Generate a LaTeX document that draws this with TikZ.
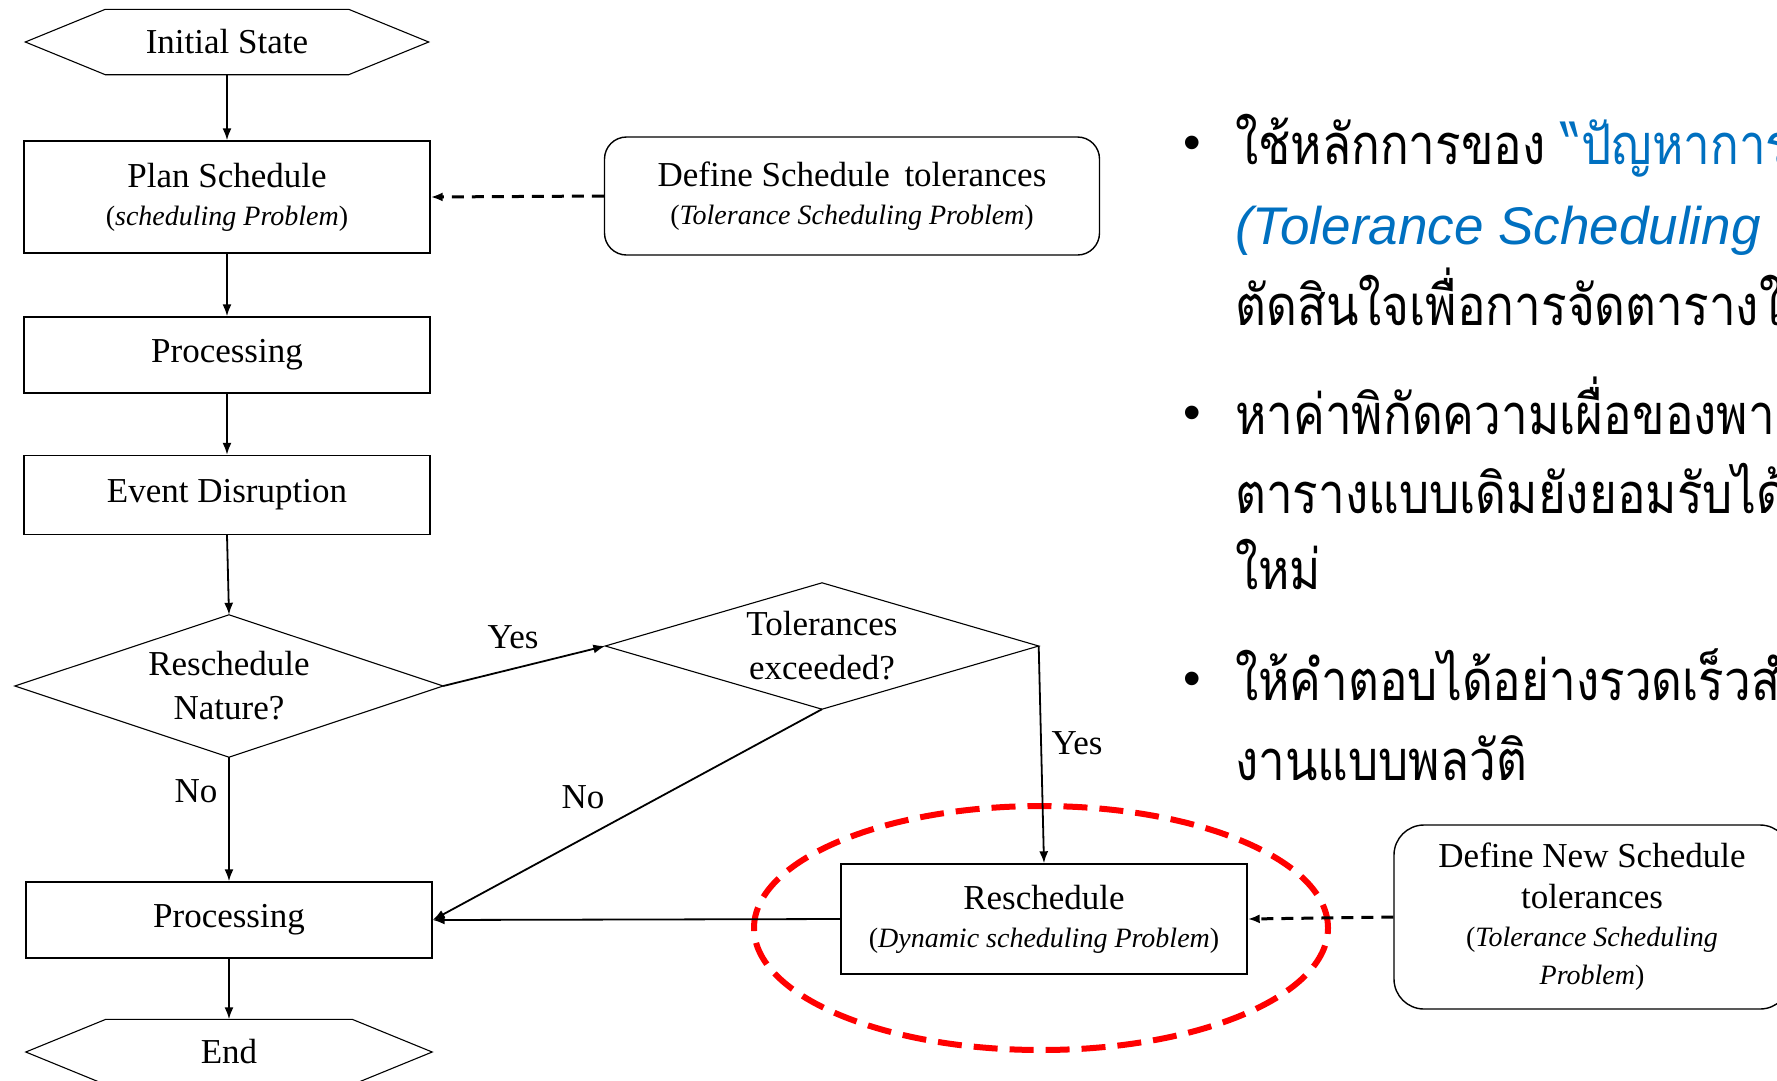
\documentclass[tikz,border=0pt]{standalone}
\usepackage{fontspec}
\setmainfont{Liberation Serif}
\newfontfamily\thaifont[Script=Thai,FakeStretch=0.85]{Loma}
\newfontfamily\arialfont{Liberation Sans}
\usetikzlibrary{calc,arrows.meta}
\definecolor{tblue}{RGB}{0,112,192}
\newcommand\subfnt{\fontsize{28}{36}\selectfont}
\begin{document}
\begin{tikzpicture}[x=1pt,y=-1pt,
  main/.style={font=\fontsize{35}{42}\selectfont},
  box/.style={draw, line width=1.4pt, inner sep=0pt, align=center, main},
  rbox/.style={box, rounded corners=22pt},
  shapeline/.style={line width=1.1pt},
  conn/.style={line width=1.8pt, -{Latex[length=12pt,width=9pt]}},
  dconn/.style={line width=3pt, dash pattern=on 12pt off 8pt, -{Latex[length=12pt,width=9pt]}},
  lbl/.style={main, inner sep=0pt},
  thai/.style={anchor=base west, inner sep=0pt, font=\thaifont\fontsize{56}{70}\selectfont},
  bul/.style={inner sep=0pt, font=\arialfont\fontsize{50}{60}\selectfont},
]
\useasboundingbox (0,0) rectangle (1777,1080);
\clip (0,0) rectangle (1777,1080);
\fill[white] (0,0) rectangle (1777,1080);

% ---------- left column ----------
\node[main, minimum width=403pt, minimum height=65pt, inner sep=0pt] (init) at (227,42) {Initial State};
\draw[shapeline] (init.west) -- ($(init.north west)+(80,0)$) -- ($(init.north east)+(-80,0)$) -- (init.east) -- ($(init.south east)+(-80,0)$) -- ($(init.south west)+(80,0)$) -- cycle;

\node[box, minimum width=406pt, minimum height=112pt] (plan) at (227,197)
  {Plan Schedule\\[-4pt]{\subfnt(\textit{scheduling Problem})}};
\node[box, minimum width=406pt, minimum height=76pt] (proc1) at (227,355) {Processing};
\node[box, minimum width=406pt, minimum height=79pt] (event) at (227,495) {Event Disruption};

\node[main, align=center, minimum width=428pt, minimum height=142pt, inner sep=0pt] (nature) at (229,686)
  {Reschedule\\[2pt]Nature?};
\draw[shapeline] (nature.north) -- (nature.east) -- (nature.south) -- (nature.west) -- cycle;

\node[box, minimum width=406pt, minimum height=76pt] (proc2) at (229,920) {Processing};

\node[main, minimum width=406pt, minimum height=65pt, inner sep=0pt] (endn) at (229,1052) {End};
\draw[shapeline] (endn.west) -- ($(endn.north west)+(80,0)$) -- ($(endn.north east)+(-80,0)$) -- (endn.east) -- ($(endn.south east)+(-80,0)$) -- ($(endn.south west)+(80,0)$) -- cycle;

% ---------- middle ----------
\node[rbox, minimum width=495pt, minimum height=118pt] (deftol) at (852,196)
  {Define Schedule\, tolerances\\[-4pt]{\subfnt(\textit{Tolerance Scheduling Problem})}};

\node[main, align=center, minimum width=433pt, minimum height=126pt, inner sep=0pt] (tol) at (822,646)
  {Tolerances\\[2pt]exceeded?};
\draw[shapeline] (tol.north) -- (tol.east) -- (tol.south) -- (tol.west) -- cycle;

\node[box, minimum width=406pt, minimum height=110pt] (resch) at (1044,919)
  {Reschedule\\[-4pt]{\subfnt(\textit{Dynamic scheduling Problem})}};

\node[rbox, rounded corners=30pt, minimum width=396pt, minimum height=184pt] (defnew) at (1592,917)
  {Define New Schedule\\[-1pt]tolerances\\[-4pt]{\subfnt(\textit{Tolerance Scheduling}}\\[-4pt]{\subfnt\textit{Problem})}};

\draw[red, line width=6pt, dash pattern=on 24pt off 12pt] (1041,928) ellipse [x radius=287pt, y radius=122pt];

% ---------- connectors ----------
\draw[conn] (init.south) -- (plan.north);
\draw[conn] (plan.south) -- (proc1.north);
\draw[conn] (proc1.south) -- (event.north);
\draw[conn] (event.south) -- (nature.north);
\draw[conn] (nature.south) -- (proc2.north);
\draw[conn] (proc2.south) -- (endn.north);
\draw[conn] (nature.east) -- (tol.west);
\draw[conn] (tol.east) -- (resch.north);
\draw[conn] (tol.south) -- (proc2.east);
\draw[conn] (resch.west) -- (proc2.east);
\draw[dconn] (deftol.west) -- (plan.east);
\draw[dconn] (defnew.west) -- (resch.east);

\node[lbl] (yes1) at (513,637) {Yes};
\node[lbl] (yes2) at (1077,743) {Yes};
\node[lbl] (no1) at (583,797) {No};
\node[lbl] (no2) at (196,791) {No};

% ---------- Thai text ----------
\node[bul] (b1) at (1192,148) {•};
\node[thai] (t1) at (1235,164) {ใช้หลักการของ \textcolor{tblue}{“ปัญหาการ}};
\node[anchor=base west, inner sep=0pt, text=tblue, font=\arialfont\itshape\fontsize{53}{64}\selectfont] (t2) at (1235,244) {(Tolerance Scheduling};
\node[thai] (t3) at (1235,325) {ตัดสินใจเพื่อการจัดตารางใ};
\node[bul] (b2) at (1192,418) {•};
\node[thai] (t4) at (1235,434) {หาค่าพิกัดความเผื่อของพา};
\node[thai] (t5) at (1235,513) {ตารางแบบเดิมยังยอมรับได้};
\node[thai] (t6) at (1235,589) {ใหม่};
\node[bul] (b3) at (1192,684) {•};
\node[thai] (t7) at (1235,700) {ให้คำตอบได้อย่างรวดเร็วสำ};
\node[thai] (t8) at (1235,780) {งานแบบพลวัติ};
\end{tikzpicture}
\end{document}
